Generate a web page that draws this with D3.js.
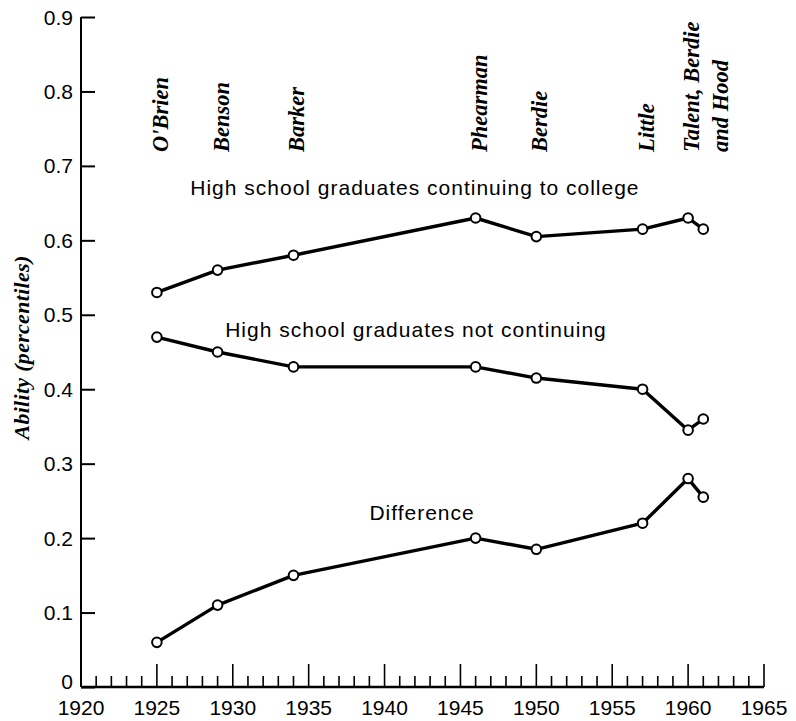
<!DOCTYPE html>
<html>
<head>
<meta charset="utf-8">
<script src="https://cdn.jsdelivr.net/npm/d3@7"></script>
<style>
  html, body { margin: 0; padding: 0; background: #fff; }
  svg { display: block; }
</style>
</head>
<body>
<script>
// Survey years and mean ability percentiles
const years = [1925, 1929, 1934, 1946, 1950, 1957, 1960, 1961];
const continuing = [0.53, 0.56, 0.58, 0.63, 0.605, 0.615, 0.63, 0.615];
const notContinuing = [0.47, 0.45, 0.43, 0.43, 0.415, 0.40, 0.345, 0.36];
const difference = [0.06, 0.11, 0.15, 0.20, 0.185, 0.22, 0.28, 0.255];

// Studies the data come from
const studyYears = [1925, 1929, 1934, 1946, 1950, 1957, 1960];
const studyNames = ["O'Brien", "Benson", "Barker", "Phearman", "Berdie", "Little", ["Talent, Berdie", "and Hood"]];

const seriesNames = [
  "High school graduates continuing to college",
  "High school graduates not continuing",
  "Difference"
];

const yTickValues = [0, 0.1, 0.2, 0.3, 0.4, 0.5, 0.6, 0.7, 0.8, 0.9];
const yTickLabels = ["0", "0.1", "0.2", "0.3", "0.4", "0.5", "0.6", "0.7", "0.8", "0.9"];
const xTickYears = [1920, 1925, 1930, 1935, 1940, 1945, 1950, 1955, 1960, 1965];

const W = 796, H = 721;
const svg = d3.select("body").append("svg").attr("width", W).attr("height", H);
svg.append("rect").attr("width", W).attr("height", H).attr("fill", "#fff");

const x = d3.scaleLinear().domain([1920, 1965]).range([81, 764]);
const y = d3.scaleLinear().domain([0, 0.9]).range([687, 17]);

const sans = "'Liberation Sans', Arial, Helvetica, sans-serif";
const serif = "'Liberation Serif', 'Times New Roman', serif";

// Y axis: ticks point inward (right)
const yAxis = d3.axisRight(y).tickValues(yTickValues).tickSize(14).tickFormat("");
const gy = svg.append("g").attr("transform", `translate(${x(1920)},0)`).call(yAxis);
gy.select(".domain").attr("d", `M0,${y(0)}V${y(0.9)}`).attr("stroke", "#000").attr("stroke-width", 2);
gy.selectAll(".tick line").attr("stroke", "#000").attr("stroke-width", 2);

// Tick labels; the zero label sits a little higher, clear of the year labels
svg.append("g").selectAll("text").data(yTickValues).join("text")
  .attr("x", x(1920) - 8)
  .attr("y", d => y(d) - (d === 0 ? 6 : 0))
  .attr("dy", "0.36em")
  .attr("text-anchor", "end")
  .attr("font-family", sans)
  .attr("font-size", 21)
  .attr("fill", "#000")
  .text((d, i) => yTickLabels[i]);

// X axis: yearly minor ticks, five-year major ticks, pointing up
const minorYears = d3.range(1921, 1966).filter(v => v % 5 !== 0);
const majorYears = xTickYears.filter(v => v !== 1920);
const gx = svg.append("g").attr("transform", `translate(0,${y(0)})`);
gx.append("line").attr("x1", x(1920)).attr("x2", x(1965))
  .attr("stroke", "#000").attr("stroke-width", 2.5);
gx.selectAll("line.minor").data(minorYears).join("line").attr("class", "minor")
  .attr("x1", d => x(d)).attr("x2", d => x(d)).attr("y1", 0).attr("y2", -11)
  .attr("stroke", "#000").attr("stroke-width", 1.6);
gx.selectAll("line.major").data(majorYears).join("line").attr("class", "major")
  .attr("x1", d => x(d)).attr("x2", d => x(d)).attr("y1", 0).attr("y2", -23)
  .attr("stroke", "#000").attr("stroke-width", 1.6);
gx.selectAll("text").data(xTickYears).join("text")
  .attr("x", d => x(d)).attr("y", 28)
  .attr("text-anchor", "middle")
  .attr("font-family", sans).attr("font-size", 21).attr("fill", "#000")
  .text(d => d);

// Y axis title
svg.append("text")
  .attr("transform", `translate(29,${y(0.456)}) rotate(-90)`)
  .attr("text-anchor", "middle")
  .attr("font-family", serif).attr("font-style", "italic").attr("font-weight", "bold")
  .attr("font-size", 22).attr("letter-spacing", 0.3).attr("fill", "#000")
  .text("Ability (percentiles)");

// Series lines with open circle markers
const line = d3.line().x(d => x(d[0])).y(d => y(d[1]));
[continuing, notContinuing, difference].forEach(vals => {
  const pts = years.map((yr, i) => [yr, vals[i]]);
  svg.append("path").datum(pts).attr("d", line)
    .attr("fill", "none").attr("stroke", "#000").attr("stroke-width", 3.4)
    .attr("stroke-linejoin", "round");
  svg.append("g").selectAll("circle").data(pts).join("circle")
    .attr("cx", d => x(d[0])).attr("cy", d => y(d[1])).attr("r", 4.8)
    .attr("fill", "#fff").attr("stroke", "#000").attr("stroke-width", 2);
});

// Series labels
const seriesLabelAnchors = [[1927.2, 0.661], [1929.5, 0.470], [1939.0, 0.224]];
svg.append("g").selectAll("text").data(seriesNames).join("text")
  .attr("x", (d, i) => x(seriesLabelAnchors[i][0]))
  .attr("y", (d, i) => y(seriesLabelAnchors[i][1]))
  .attr("font-family", sans).attr("font-size", 21).attr("letter-spacing", 1.0)
  .attr("fill", "#000")
  .text(d => d);

// Study names, set vertically above the data
const labelBase = 152;
const studies = svg.append("g");
studyNames.forEach((name, i) => {
  const lines = Array.isArray(name) ? name : [name];
  lines.forEach((txt, j) => {
    studies.append("text")
      .attr("transform", `translate(${x(studyYears[i]) + 11 + j * 29},${labelBase}) rotate(-90)`)
      .attr("text-anchor", "start")
      .attr("font-family", serif).attr("font-style", "italic").attr("font-weight", "bold")
      .attr("font-size", 22.5).attr("fill", "#000")
      .text(txt);
  });
});
</script>
</body>
</html>
